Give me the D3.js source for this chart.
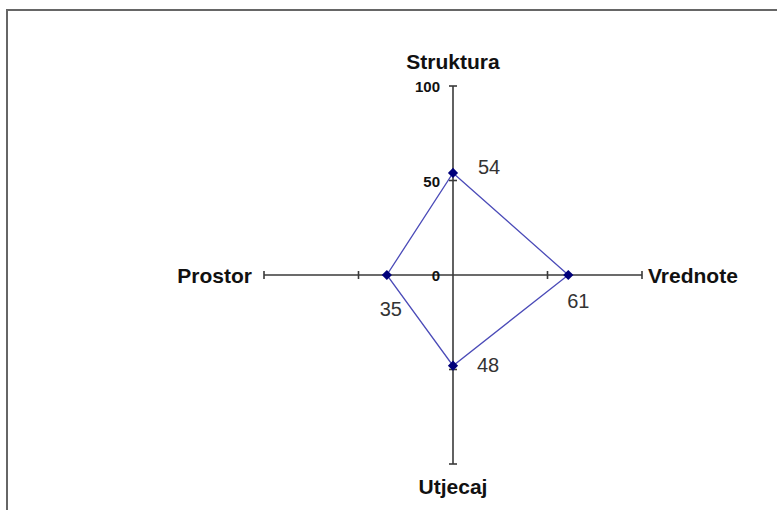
<!DOCTYPE html>
<html>
<head>
<meta charset="utf-8">
<script src="https://cdn.jsdelivr.net/npm/d3@7"></script>
<style>
body { margin: 0; background: #fff; }
</style>
</head>
<body>
<svg id="chart"></svg>
<script>
var axes = ["Struktura", "Vrednote", "Utjecaj", "Prostor"];
var values = [54, 61, 48, 35];
var ticks = [0, 50, 100];

var width = 777, height = 510,
    cx = 453, cy = 275, radius = 189;

var svg = d3.select("#chart")
  .attr("width", width)
  .attr("height", height);

// outer frame (runs off the right and bottom edge)
svg.append("rect")
  .attr("x", 7).attr("y", 10)
  .attr("width", 800).attr("height", 600)
  .attr("fill", "none")
  .attr("stroke", "#666")
  .attr("stroke-width", 2);

var r = d3.scaleLinear().domain([0, 100]).range([0, radius]);
var angle = d3.scaleLinear().domain([0, axes.length]).range([0, 2 * Math.PI]);

function pos(i, v) {
  var a = angle(i);
  return [cx + Math.sin(a) * r(v), cy - Math.cos(a) * r(v)];
}

var g = svg.append("g");

// axis lines
axes.forEach(function (name, i) {
  var end = pos(i, 100);
  g.append("line")
    .attr("x1", cx).attr("y1", cy)
    .attr("x2", end[0]).attr("y2", end[1])
    .attr("stroke", "#3a3a3a")
    .attr("stroke-width", 1.6);

  // tick marks
  ticks.filter(function (t) { return t > 0; }).forEach(function (t) {
    var p = pos(i, t), a = angle(i);
    var dx = Math.cos(a) * 4, dy = Math.sin(a) * 4;
    g.append("line")
      .attr("x1", p[0] - dx).attr("y1", p[1] - dy)
      .attr("x2", p[0] + dx).attr("y2", p[1] + dy)
      .attr("stroke", "#3a3a3a")
      .attr("stroke-width", 1.6);
  });
});

// axis titles
var titlePos = [
  {dx: 0, dy: -17, anchor: "middle"},
  {dx: 6, dy: 8, anchor: "start"},
  {dx: 0, dy: 30, anchor: "middle"},
  {dx: -12, dy: 8, anchor: "end"}
];
axes.forEach(function (name, i) {
  var p = pos(i, 100);
  g.append("text")
    .attr("x", p[0] + titlePos[i].dx)
    .attr("y", p[1] + titlePos[i].dy)
    .attr("text-anchor", titlePos[i].anchor)
    .attr("font-family", "Liberation Sans, Arial, sans-serif")
    .attr("font-weight", "bold")
    .attr("font-size", 21)
    .attr("fill", "#111")
    .text(name);
});

// tick labels on the first axis
ticks.forEach(function (t) {
  var p = pos(0, t);
  g.append("text")
    .attr("x", p[0] - 13)
    .attr("y", p[1] + 6)
    .attr("text-anchor", "end")
    .attr("font-family", "Liberation Sans, Arial, sans-serif")
    .attr("font-weight", "bold")
    .attr("font-size", 15)
    .attr("fill", "#111")
    .text(t);
});

// series polygon
var pts = values.map(function (v, i) { return pos(i, v); });
g.append("path")
  .attr("d", d3.line().curve(d3.curveLinearClosed)(pts))
  .attr("fill", "none")
  .attr("stroke", "#4b4bb8")
  .attr("stroke-width", 1.3);

// markers
g.selectAll(".marker")
  .data(pts)
  .enter()
  .append("path")
    .attr("class", "marker")
    .attr("transform", function (d) { return "translate(" + d[0] + "," + d[1] + ") rotate(45)"; })
    .attr("d", d3.symbol().type(d3.symbolSquare).size(52))
    .attr("fill", "#00007a");

// data labels
var labelPos = [
  {dx: 36, dy: 1},
  {dx: 10, dy: 33},
  {dx: 35, dy: 6},
  {dx: 4, dy: 41}
];
values.forEach(function (v, i) {
  var p = pts[i];
  g.append("text")
    .attr("x", p[0] + labelPos[i].dx)
    .attr("y", p[1] + labelPos[i].dy)
    .attr("text-anchor", "middle")
    .attr("font-family", "Liberation Sans, Arial, sans-serif")
    .attr("font-size", 20)
    .attr("fill", "#333")
    .text(v);
});
</script>
</body>
</html>
